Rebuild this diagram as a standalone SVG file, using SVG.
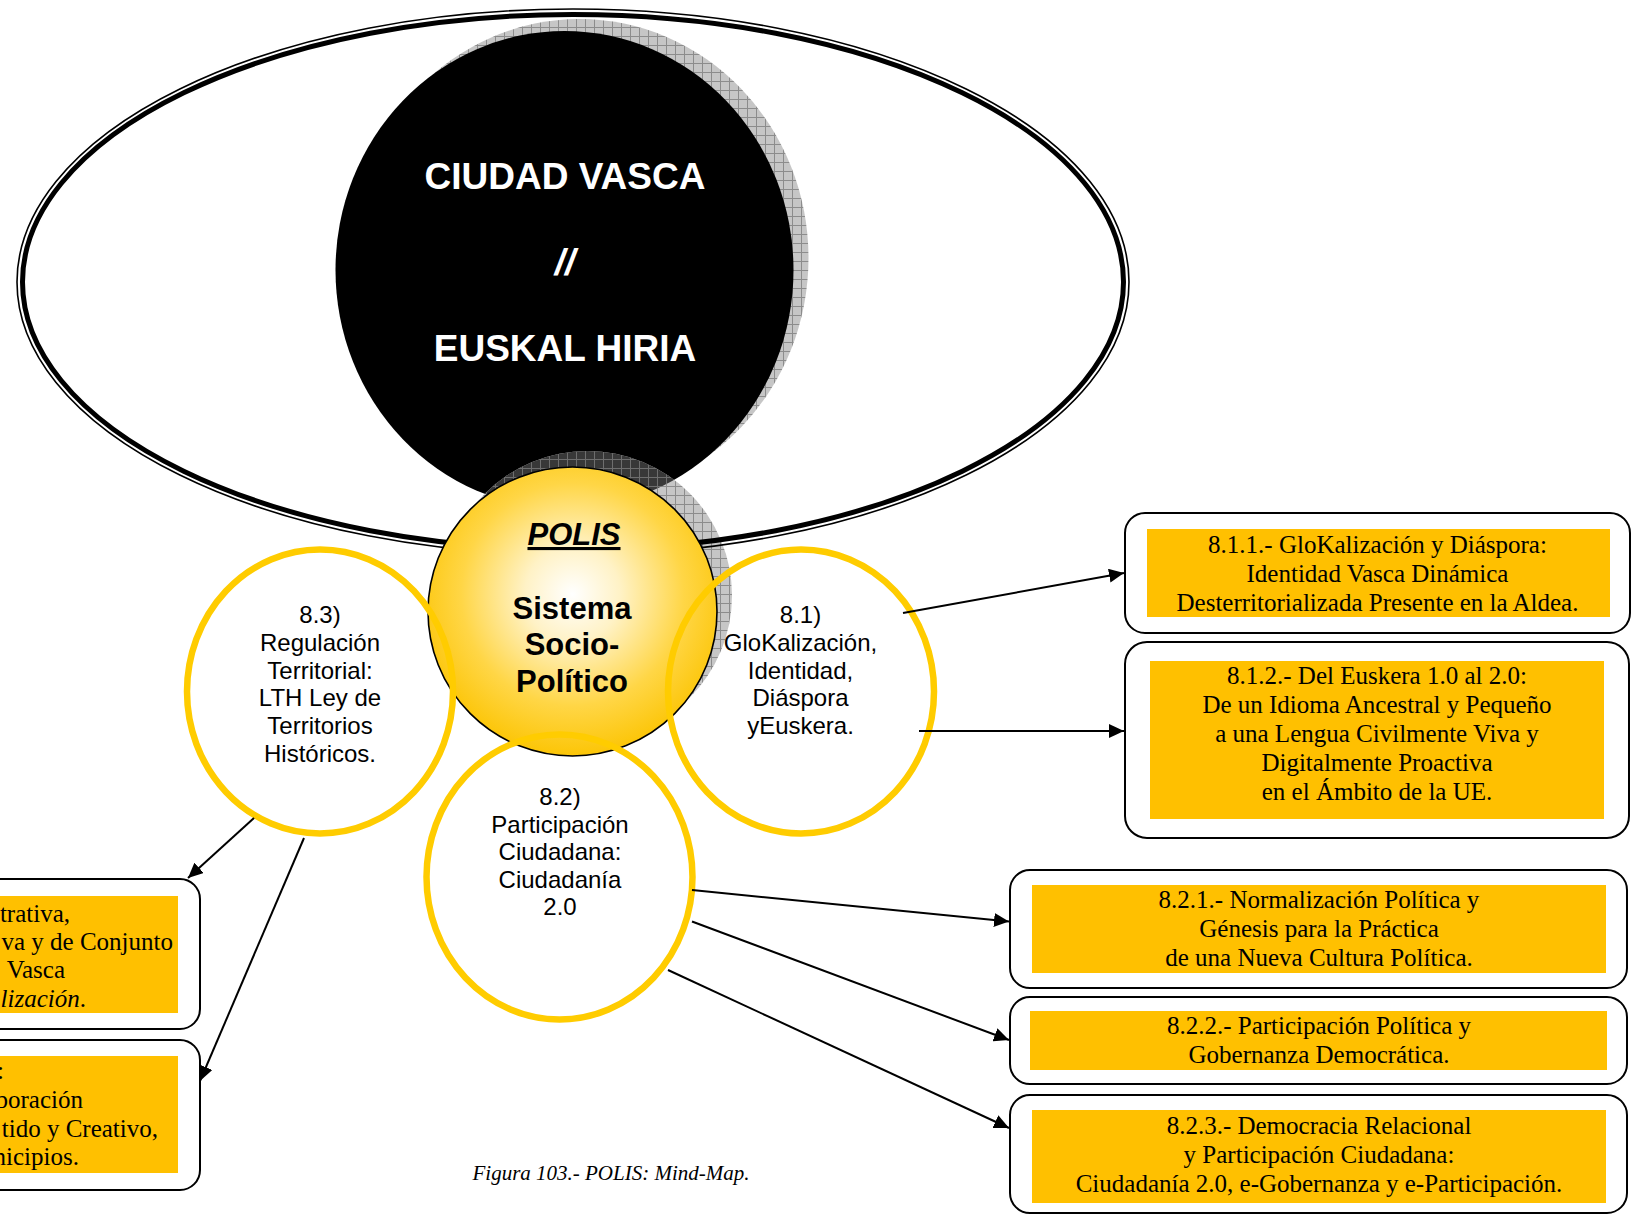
<svg xmlns="http://www.w3.org/2000/svg" width="1638" height="1215" viewBox="0 0 1638 1215">
<style>
.ring{fill:none;stroke:#FFCC00;stroke-width:6.5}
.rt{font-family:"Liberation Sans",Arial,sans-serif;font-size:24px;fill:#000;text-anchor:middle}
.bt{font-family:"Liberation Serif","Times New Roman",serif;font-size:25px;fill:#000;text-anchor:middle}
.lt{font-family:"Liberation Serif","Times New Roman",serif;font-size:25px;fill:#000;text-anchor:end}
.box{fill:#fff;stroke:#000;stroke-width:2}
.org{fill:#FFC000}
.big{font-family:"Liberation Sans",Arial,sans-serif;font-weight:bold;font-size:37px;fill:#fff;text-anchor:middle}
.pt{font-family:"Liberation Sans",Arial,sans-serif;font-weight:bold;font-size:31px;fill:#000;text-anchor:middle}
.con{fill:none;stroke:#000;stroke-width:2;marker-end:url(#arr)}
</style>
<defs>
<marker id="arr" markerUnits="userSpaceOnUse" markerWidth="16" markerHeight="14" refX="15" refY="7" orient="auto">
<path d="M0,0 L15,7 L0,14 z" fill="#000"/>
</marker>
<pattern id="chkL" width="9" height="9" patternUnits="userSpaceOnUse">
<rect width="9" height="9" fill="#c6c6c6"/>
<path d="M0,0.5H9M0.5,0V9" stroke="#8c8c8c" stroke-width="1"/>
</pattern>
<pattern id="chkD" width="9" height="9" patternUnits="userSpaceOnUse">
<rect width="9" height="9" fill="#383838"/>
<path d="M0,0.5H9M0.5,0V9" stroke="#6e6e6e" stroke-width="1"/>
</pattern>
<clipPath id="blackClip"><ellipse cx="564.5" cy="270" rx="229" ry="239"/></clipPath>
<radialGradient id="polisGrad" cx="50%" cy="44%" r="55%">
<stop offset="0" stop-color="#ffffff"/>
<stop offset="0.3" stop-color="#fff2c6"/>
<stop offset="0.7" stop-color="#ffd646"/>
<stop offset="1" stop-color="#fcc60a"/>
</radialGradient>
</defs>
<rect width="1638" height="1215" fill="#fff"/>

<g id="ciudad-vasca">
<ellipse cx="579.5" cy="258" rx="229" ry="239" fill="url(#chkL)"/>
<ellipse cx="564.5" cy="270" rx="229" ry="239" fill="#000"/>
<text class="big" x="565" y="189">CIUDAD VASCA</text>
<text class="big" x="565" y="275" font-style="italic">//</text>
<text class="big" x="565" y="361">EUSKAL HIRIA</text>
</g>

<g id="polis-shadow">
<circle cx="587.5" cy="595.5" r="144.5" fill="url(#chkL)"/>
<circle cx="587.5" cy="595.5" r="144.5" fill="url(#chkD)" clip-path="url(#blackClip)"/>
</g>

<g id="frame-ellipse">
<ellipse cx="573" cy="282" rx="556" ry="273" fill="none" stroke="#000" stroke-width="1.6"/>
<ellipse cx="573" cy="282" rx="550.5" ry="267.5" fill="none" stroke="#000" stroke-width="5"/>
</g>

<g id="polis">
<circle cx="572.5" cy="611.5" r="144.5" fill="url(#polisGrad)" stroke="#000" stroke-width="1.6"/>
<text class="pt" x="574" y="545" font-style="italic" text-decoration="underline">POLIS</text>
<text class="pt" x="572" y="619">Sistema</text>
<text class="pt" x="572" y="655">Socio-</text>
<text class="pt" x="572" y="692">Político</text>
</g>

<g id="n83">
<ellipse class="ring" cx="320" cy="691.5" rx="133" ry="142"/>
<text class="rt" x="320" y="623">8.3)</text>
<text class="rt" x="320" y="651">Regulación</text>
<text class="rt" x="320" y="678.5">Territorial:</text>
<text class="rt" x="320" y="706">LTH Ley de</text>
<text class="rt" x="320" y="734">Territorios</text>
<text class="rt" x="320" y="761.5">Históricos.</text>
</g>

<g id="n81">
<ellipse class="ring" cx="801" cy="691.5" rx="133" ry="142"/>
<text class="rt" x="800.5" y="623">8.1)</text>
<text class="rt" x="800.5" y="651">GloKalización,</text>
<text class="rt" x="800.5" y="678.5">Identidad,</text>
<text class="rt" x="800.5" y="706">Diáspora</text>
<text class="rt" x="800.5" y="734">yEuskera.</text>
</g>

<g id="n82">
<ellipse class="ring" cx="559.5" cy="877" rx="133" ry="142.5"/>
<text class="rt" x="560" y="805">8.2)</text>
<text class="rt" x="560" y="832.5">Participación</text>
<text class="rt" x="560" y="860">Ciudadana:</text>
<text class="rt" x="560" y="888">Ciudadanía</text>
<text class="rt" x="560" y="915">2.0</text>
</g>

<g id="n811">
<rect class="box" x="1125" y="513" width="505" height="120" rx="20"/>
<rect class="org" x="1147" y="529" width="463" height="88"/>
<text class="bt" x="1377.5" y="553">8.1.1.- GloKalización y Diáspora:</text>
<text class="bt" x="1377.5" y="582">Identidad Vasca Dinámica</text>
<text class="bt" x="1377.5" y="610.5">Desterritorializada Presente en la Aldea.</text>
</g>

<g id="n812">
<rect class="box" x="1125" y="642" width="504" height="196" rx="22"/>
<rect class="org" x="1150" y="661" width="454" height="158"/>
<text class="bt" x="1377" y="683.5">8.1.2.- Del Euskera 1.0 al 2.0:</text>
<text class="bt" x="1377" y="712.5">De un Idioma Ancestral y Pequeño</text>
<text class="bt" x="1377" y="741.5">a una Lengua Civilmente Viva y</text>
<text class="bt" x="1377" y="770.5">Digitalmente Proactiva</text>
<text class="bt" x="1377" y="800">en el Ámbito de la UE.</text>
</g>

<g id="n821">
<rect class="box" x="1010" y="870" width="617" height="118" rx="20"/>
<rect class="org" x="1032" y="885" width="574" height="88"/>
<text class="bt" x="1319" y="907.5">8.2.1.- Normalización Política y</text>
<text class="bt" x="1319" y="936.5">Génesis para la Práctica</text>
<text class="bt" x="1319" y="966">de una Nueva Cultura Política.</text>
</g>

<g id="n822">
<rect class="box" x="1010" y="997" width="617" height="87" rx="20"/>
<rect class="org" x="1030" y="1011" width="577" height="59"/>
<text class="bt" x="1319" y="1034">8.2.2.- Participación Política y</text>
<text class="bt" x="1319" y="1063">Gobernanza Democrática.</text>
</g>

<g id="n823">
<rect class="box" x="1010" y="1095" width="617" height="118" rx="20"/>
<rect class="org" x="1032" y="1110" width="574" height="93"/>
<text class="bt" x="1319" y="1133.5">8.2.3.- Democracia Relacional</text>
<text class="bt" x="1319" y="1162.5">y Participación Ciudadana:</text>
<text class="bt" x="1319" y="1191.5">Ciudadanía 2.0, e-Gobernanza y e-Participación.</text>
</g>

<g id="n831">
<rect class="box" x="-300" y="879" width="500" height="150" rx="20"/>
<rect class="org" x="-300" y="896" width="478" height="117"/>
<text class="lt" x="70" y="922">trativa,</text>
<text class="lt" x="173" y="950">va y de Conjunto</text>
<text class="lt" x="65" y="978">Vasca</text>
<text class="lt" x="86" y="1007"><tspan font-style="italic">lización</tspan>.</text>
</g>

<g id="n832">
<rect class="box" x="-300" y="1040" width="500" height="150" rx="20"/>
<rect class="org" x="-300" y="1056" width="478" height="117"/>
<text class="lt" x="4" y="1079">:</text>
<text class="lt" x="83" y="1108">boración</text>
<text class="lt" x="158" y="1137">tido y Creativo,</text>
<text class="lt" x="79" y="1165">nicipios.</text>
</g>

<g id="connectors">
<line class="con" x1="903" y1="613" x2="1124" y2="573"/>
<line class="con" x1="919" y1="731" x2="1124" y2="731"/>
<line class="con" x1="692" y1="890" x2="1009" y2="921.5"/>
<line class="con" x1="692" y1="921.5" x2="1009" y2="1040"/>
<line class="con" x1="668" y1="970" x2="1009" y2="1128"/>
<line class="con" x1="254" y1="818" x2="188" y2="878"/>
<line class="con" x1="304" y1="838" x2="200" y2="1081"/>
</g>

<text x="611" y="1180" font-family="Liberation Serif, Times New Roman, serif" font-style="italic" font-size="21" text-anchor="middle" fill="#000">Figura 103.- POLIS: Mind-Map.</text>
</svg>
